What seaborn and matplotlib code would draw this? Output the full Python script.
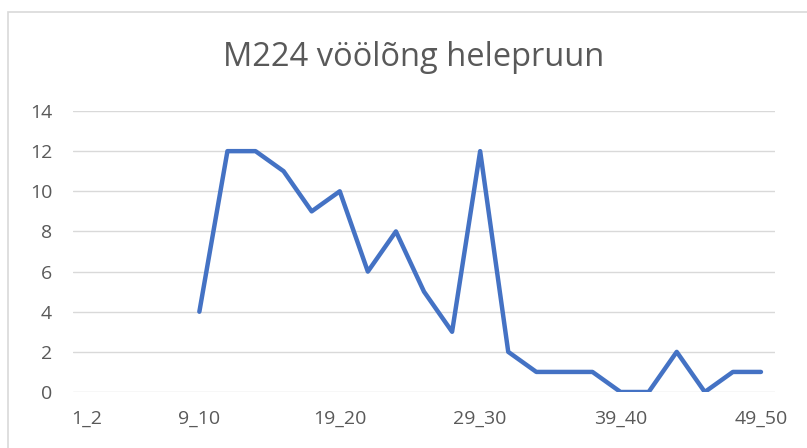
import numpy as np
import pandas as pd
import matplotlib
matplotlib.use("Agg")
import matplotlib.pyplot as plt
import seaborn as sns
from matplotlib.patches import Rectangle

categories = [f"{2*i+1}_{2*i+2}" for i in range(25)]
values = [np.nan, np.nan, np.nan, np.nan, 4, 12, 12, 11, 9, 10, 6, 8, 5, 3, 12,
          2, 1, 1, 1, 0, 0, 2, 0, 1, 1]
tick_labels = ["1_2", "9_10", "19_20", "29_30", "39_40", "49_50"]
title = "M224 vöölõng helepruun"

sns.set_theme(style="white")
plt.rcParams['font.family'] = ['Open Sans', 'DejaVu Sans']

df = pd.DataFrame({"cat": categories, "pos": np.arange(len(categories)), "val": values})

fig = plt.figure(figsize=(8.07, 4.48), dpi=100)
ax = fig.add_axes([73/807, 1-392/448, (775-73)/807, (392-111)/448])

sns.lineplot(data=df, x="pos", y="val", ax=ax, color="#4472C4", linewidth=3.2,
             solid_capstyle="round", solid_joinstyle="round")

ax.set_xlim(-0.5, len(categories) - 0.5)
ax.set_ylim(0, 14)
ax.set_yticks(np.arange(0, 15, 2))
pos_map = {c: i for i, c in enumerate(categories)}
ax.set_xticks([pos_map[t] for t in tick_labels])
ax.set_xticklabels(tick_labels)
ax.set_xlabel("")
ax.set_ylabel("")
ax.grid(axis="y", color="#D9D9D9", linewidth=1.0)
ax.set_axisbelow(True)
for s in ax.spines.values():
    s.set_visible(False)
ax.tick_params(axis="both", length=0, labelsize=14, colors="#595959")
ax.tick_params(axis="y", pad=15)
ax.tick_params(axis="x", pad=13)

fig.text(414/807, 1-57/448, title, ha="center", va="center", fontsize=23.5, color="#595959")

fig.patches.append(Rectangle((8/807, -0.1), 1.2, 1.1 - 12/448, transform=fig.transFigure,
                             fill=False, edgecolor="#D9D9D9", linewidth=1.2))

fig.savefig("out.png", dpi=100)
